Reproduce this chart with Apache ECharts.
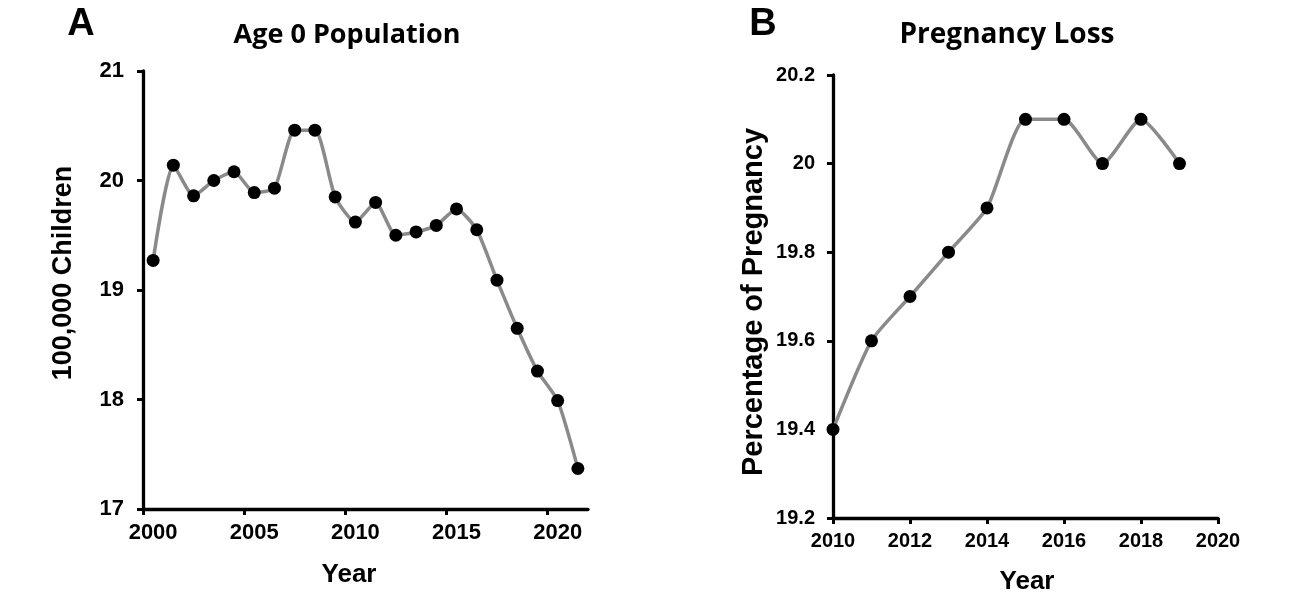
<!DOCTYPE html>
<html>
<head>
<meta charset="utf-8">
<script src="https://cdn.jsdelivr.net/npm/echarts@6/dist/echarts.min.js"></script>
<style>
  html, body { margin: 0; padding: 0; background: #fff; }
  #chart { width: 1302px; height: 603px; }
</style>
</head>
<body>
<div id="chart"></div>
<script>
// Panel A: Age 0 population (points sit at mid-year)
const yearsA = [2000.5, 2001.5, 2002.5, 2003.5, 2004.5, 2005.5, 2006.5, 2007.5, 2008.5, 2009.5, 2010.5,
  2011.5, 2012.5, 2013.5, 2014.5, 2015.5, 2016.5, 2017.5, 2018.5, 2019.5, 2020.5, 2021.5]
const populationA = [19.27, 20.14, 19.86, 20.0, 20.08, 19.89, 19.93, 20.46, 20.46, 19.85, 19.62,
  19.8, 19.5, 19.53, 19.59, 19.74, 19.55, 19.09, 18.65, 18.26, 17.99, 17.37]
const xTicksA = [2000, 2005, 2010, 2015, 2020]

// Panel B: pregnancy loss
const yearsB = [2010, 2011, 2012, 2013, 2014, 2015, 2016, 2017, 2018, 2019]
const lossB = [19.4, 19.6, 19.7, 19.8, 19.9, 20.1, 20.1, 20.0, 20.1, 20.0]

const chart = echarts.init(document.getElementById('chart'))

const axisFont = 'Liberation Sans, Arial, sans-serif'
const titleFont = 'Open Sans, Noto Sans, sans-serif'
const plain = v => String(v)

function axisBase(labelSize, margin) {
  return {
    type: 'value',
    axisLine: { show: true, onZero: false, lineStyle: { color: '#000', width: 3.3 } },
    axisTick: { show: true, length: 6, lineStyle: { color: '#000', width: 3 } },
    axisLabel: {
      color: '#000', fontWeight: 'bold', fontFamily: axisFont,
      fontSize: labelSize, margin: margin, formatter: plain
    },
    splitLine: { show: false }
  }
}

function lineSeries(xs, ys, idx) {
  return {
    type: 'line',
    xAxisIndex: idx,
    yAxisIndex: idx,
    data: xs.map((x, i) => [x, ys[i]]),
    smooth: 0.2,
    symbol: 'circle',
    symbolSize: 13,
    itemStyle: { color: '#000' },
    lineStyle: { color: '#8a8a8a', width: 3.5 },
    z: 3
  }
}

function label(text, x, y, size, font, rotate) {
  return {
    type: 'text',
    x: x,
    y: y,
    rotation: rotate || 0,
    style: {
      text: text,
      fill: '#000',
      font: 'bold ' + size + 'px ' + font,
      align: 'center',
      verticalAlign: 'middle'
    }
  }
}

// panel A: ticks on year boundaries, labels centred on the mid-year points
const xA = axisBase(22, 13)
xA.axisTick.customValues = xTicksA
xA.axisLabel.customValues = xTicksA.map(y => y + 0.5)
xA.axisLabel.formatter = v => String(Math.floor(v))

const option = {
  backgroundColor: '#fff',
  animation: false,
  grid: [
    { left: 143, top: 71, width: 445, height: 438 },
    { left: 833, top: 75, width: 385, height: 443 }
  ],
  xAxis: [
    Object.assign(xA, { gridIndex: 0, min: 2000, max: 2022 }),
    Object.assign(axisBase(20, 13), { gridIndex: 1, min: 2010, max: 2020, interval: 2 })
  ],
  yAxis: [
    Object.assign(axisBase(22, 19), { gridIndex: 0, min: 17, max: 21, interval: 1 }),
    Object.assign(axisBase(20, 18), { gridIndex: 1, min: 19.2, max: 20.2, interval: 0.2 })
  ],
  series: [
    lineSeries(yearsA, populationA, 0),
    lineSeries(yearsB, lossB, 1)
  ],
  graphic: [
    label('A', 81, 25, 38, axisFont),
    label('B', 763, 25, 38, axisFont),
    label('Age 0 Population', 347, 35, 27, titleFont),
    label('Pregnancy Loss', 1007, 35, 28, titleFont),
    label('Year', 349, 575, 26, axisFont),
    label('Year', 1027, 582, 26, axisFont),
    label('100,000 Children', 64, 273, 27, axisFont, Math.PI / 2),
    label('Percentage of Pregnancy', 754, 302, 29, axisFont, Math.PI / 2)
  ]
}

chart.setOption(option)
</script>
</body>
</html>
